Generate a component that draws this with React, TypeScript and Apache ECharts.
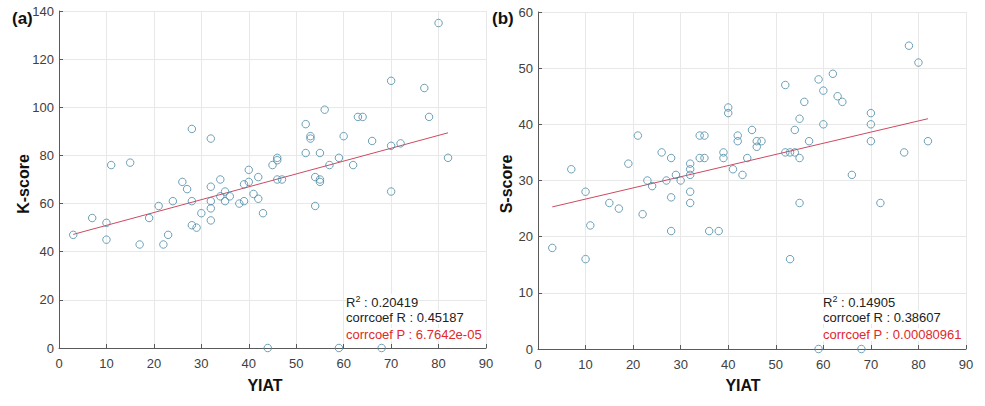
import React, { useEffect, useRef } from "react";
import * as echarts from "echarts";

// ---- Data: (YIAT, K-score) ----
const kScorePoints: [number, number][] = [
  [3, 47], [7, 54], [10, 52], [10, 45], [11, 76], [15, 77], [17, 43], [19, 54], [21, 59], [22, 43],
  [23, 47], [24, 61], [26, 69], [27, 66], [28, 91], [28, 61], [28, 51], [29, 50], [30, 56], [32, 87],
  [32, 67], [32, 61], [32, 58], [32, 53], [34, 70], [34, 63], [35, 65], [35, 61], [36, 63], [38, 60],
  [39, 61], [39, 68], [40, 74], [40, 69], [41, 64], [42, 71], [42, 62], [43, 56], [44, 0], [45, 76],
  [46, 79], [46, 78], [46, 70], [47, 70], [52, 93], [52, 81], [53, 88], [53, 87], [54, 71], [54, 59],
  [55, 81], [55, 70], [55, 69], [56, 99], [57, 76], [59, 79], [59, 0], [60, 88], [62, 76], [63, 96],
  [64, 96], [66, 86], [68, 0], [70, 111], [70, 84], [70, 65], [72, 85], [77, 108], [78, 96], [80, 135],
  [82, 79],
];
const kFitLine: [number, number][] = [[3, 47.2], [82, 89.4]];
const kStats = ["0.20419", "0.45187", "6.7642e-05"];

// ---- Data: (YIAT, S-score) ----
const sScorePoints: [number, number][] = [
  [3, 18], [7, 32], [10, 28], [10, 16], [11, 22], [15, 26], [17, 25], [19, 33], [21, 38], [22, 24],
  [23, 30], [24, 29], [26, 35], [27, 30], [28, 34], [28, 27], [28, 21], [29, 31], [30, 30], [32, 33],
  [32, 32], [32, 31], [32, 28], [32, 26], [34, 38], [35, 38], [34, 34], [35, 34], [36, 21], [38, 21],
  [39, 35], [39, 34], [40, 43], [40, 42], [41, 32], [42, 38], [42, 37], [43, 31], [44, 34], [45, 39],
  [46, 37], [47, 37], [46, 36], [52, 47], [52, 35], [53, 35], [54, 35], [53, 16], [54, 39], [55, 41],
  [55, 34], [55, 26], [56, 44], [57, 37], [59, 48], [59, 0], [60, 46], [60, 40], [62, 49], [63, 45],
  [64, 44], [66, 31], [68, 0], [70, 42], [70, 40], [70, 37], [72, 26], [77, 35], [78, 54], [80, 51],
  [82, 37],
];
const sFitLine: [number, number][] = [[3, 25.3], [82, 41.0]];
const sStats = ["0.14905", "0.38607", "0.00080961"];

const xMax = 90;
const xInterval = 10;
const kMax = 140;
const kInterval = 20;
const sMax = 60;
const sInterval = 10;

const FONT = "'Liberation Sans', Arial, sans-serif";
const MARKER = "#4a8aa6";
const FIT = "#cc4a62";
const GRIDLINE = "#e8e8e8";
const AXIS = "#5a5a5a";
const LABEL = "#404040";

function xAxisCfg(gridIndex: number) {
  return {
    type: "value",
    gridIndex,
    min: 0,
    max: xMax,
    interval: xInterval,
    axisLine: { show: true, onZero: false, lineStyle: { color: AXIS, width: 1 } },
    axisTick: { show: true, inside: true, length: 4, lineStyle: { color: AXIS } },
    axisLabel: { color: LABEL, fontSize: 13, fontFamily: FONT, margin: 9 },
    splitLine: { show: true, lineStyle: { color: GRIDLINE, width: 1 } },
  };
}
function yAxisCfg(gridIndex: number, max: number, interval: number) {
  return {
    type: "value",
    gridIndex,
    min: 0,
    max,
    interval,
    axisLine: { show: true, onZero: false, lineStyle: { color: AXIS, width: 1 } },
    axisTick: { show: true, inside: true, length: 4, lineStyle: { color: AXIS } },
    axisLabel: { color: LABEL, fontSize: 13, fontFamily: FONT, margin: 5 },
    splitLine: { show: true, lineStyle: { color: GRIDLINE, width: 1 } },
  };
}

function scatter(idx: number, data: [number, number][]) {
  return {
    type: "scatter",
    xAxisIndex: idx,
    yAxisIndex: idx,
    data,
    symbol: "circle",
    symbolSize: 7.5,
    clip: false,
    itemStyle: { color: "rgba(0,0,0,0)", borderColor: MARKER, borderWidth: 1 },
    z: 3,
  };
}
function fit(idx: number, data: [number, number][]) {
  return {
    type: "line",
    xAxisIndex: idx,
    yAxisIndex: idx,
    data,
    symbol: "none",
    lineStyle: { color: FIT, width: 1 },
    z: 2,
  };
}

function statTexts(x: number, y0: number, stats: string[]) {
  const base = { fontSize: 13, fontFamily: FONT, fill: "#222", backgroundColor: "#ffffff" };
  return [
    {
      type: "text",
      left: x,
      top: y0 - 9,
      z: 10,
      style: {
        text: "R{sup|2} : " + stats[0],
        ...base,
        rich: {
          sup: { fontSize: 9, fontFamily: FONT, fill: "#222", verticalAlign: "top", padding: [0, 0, 7, 0] },
        },
      },
    },
    { type: "text", left: x, top: y0 + 8, z: 10, style: { text: "corrcoef R : " + stats[1], ...base } },
    { type: "text", left: x, top: y0 + 25, z: 10, style: { text: "corrcoef P : " + stats[2], ...base, fill: "#e0282a" } },
  ];
}

export default function App() {
  const ref = useRef<HTMLDivElement>(null);
  useEffect(() => {
    if (!ref.current) return;
    const chart = echarts.init(ref.current, undefined, { renderer: "svg" });
    chart.setOption({
      animation: false,
      backgroundColor: "#ffffff",
      grid: [
        { left: 59, top: 11, width: 427, height: 337, show: false },
        { left: 538, top: 12, width: 428, height: 337, show: false },
      ],
      xAxis: [xAxisCfg(0), xAxisCfg(1)],
      yAxis: [yAxisCfg(0, kMax, kInterval), yAxisCfg(1, sMax, sInterval)],
      series: [scatter(0, kScorePoints), fit(0, kFitLine), scatter(1, sScorePoints), fit(1, sFitLine)],
      graphic: [
        { type: "text", left: 12, top: 10, style: { text: "(a)", fontSize: 17, fontWeight: "bold", fontFamily: FONT, fill: "#111" } },
        { type: "text", left: 492, top: 10, style: { text: "(b)", fontSize: 17, fontWeight: "bold", fontFamily: FONT, fill: "#111" } },
        {
          type: "text",
          x: 23,
          y: 184,
          rotation: Math.PI / 2,
          style: { text: "K-score", fontSize: 16, fontWeight: "bold", fontFamily: FONT, fill: "#111", align: "center", verticalAlign: "middle" },
        },
        {
          type: "text",
          x: 506,
          y: 184,
          rotation: Math.PI / 2,
          style: { text: "S-score", fontSize: 16, fontWeight: "bold", fontFamily: FONT, fill: "#111", align: "center", verticalAlign: "middle" },
        },
        {
          type: "text",
          x: 265,
          y: 385,
          style: { text: "YIAT", fontSize: 16, fontWeight: "bold", fontFamily: FONT, fill: "#111", align: "center", verticalAlign: "middle" },
        },
        {
          type: "text",
          x: 743,
          y: 385,
          style: { text: "YIAT", fontSize: 16, fontWeight: "bold", fontFamily: FONT, fill: "#111", align: "center", verticalAlign: "middle" },
        },
        ...statTexts(346, 303, kStats),
        ...statTexts(823, 303, sStats),
      ],
    });
    return () => chart.dispose();
  }, []);
  return <div ref={ref} style={{ width: 985, height: 406, position: "absolute", left: 0, top: 0 }} />;
}
